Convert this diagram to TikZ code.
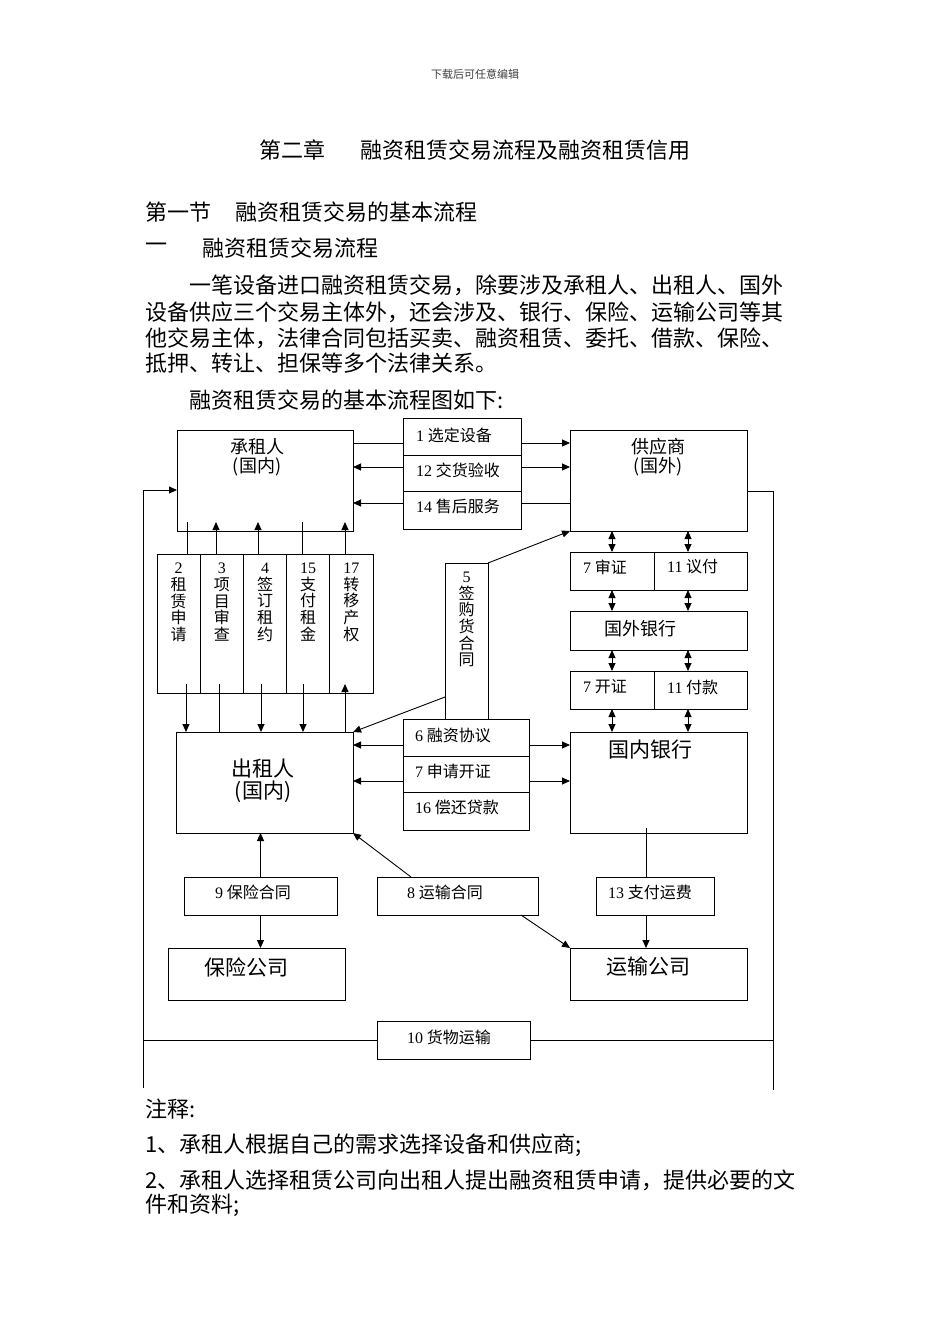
\documentclass[tikz,border=0pt]{standalone}
\usepackage{fontspec}
\setmainfont{Noto Sans CJK SC}
\newfontfamily\dg{Liberation Serif}
\usetikzlibrary{arrows.meta}
\newcommand{\fsz}[2]{\fontsize{#1}{#2}\selectfont}
\begin{document}
\begin{tikzpicture}[x=1pt,y=-1pt,
 box/.style={draw,line width=1pt,inner sep=0pt,outer sep=0pt,anchor=north west},
 conn/.style={line width=0.9pt},
 arr/.style={conn,-{Triangle[length=8pt,width=7pt]}},
 darr/.style={conn,{Triangle[length=8pt,width=7pt]}-{Triangle[length=8pt,width=7pt]}},
 lab/.style={inner sep=0pt,anchor=west,font=\fsz{16}{18}},
 clab/.style={inner sep=0pt,font=\fsz{16}{18}},
 biglab/.style={inner sep=0pt,align=center,font=\fsz{21}{22}},
 midlab/.style={inner sep=0pt,align=center,font=\fsz{18}{19}},
 bodytxt/.style={inner sep=0pt,anchor=west,font=\fsz{22}{24}},
 vtxt/.style={inner sep=0pt,anchor=north,align=center,font=\fsz{16}{16.6}}]
\useasboundingbox (0,0) rectangle (950,1344);
\fill[white] (0,0) rectangle (950,1344);

% ---------- header and text ----------
\node[inner sep=0pt,font=\fsz{11}{12},text=black!75] (hdr) at (475,74) {下载后可任意编辑};
\node[bodytxt] (t1a) at (259,150) {第二章};
\node[bodytxt] (t1b) at (360,150) {融资租赁交易流程及融资租赁信用};
\node[bodytxt] (t2a) at (145,212) {第一节};
\node[bodytxt] (t2b) at (235,212) {融资租赁交易的基本流程};
\node[bodytxt] (t3a) at (145,248) {一};
\node[bodytxt] (t3b) at (202,248) {融资租赁交易流程};
\node[bodytxt] (p1) at (189,285) {一笔设备进口融资租赁交易，除要涉及承租人、出租人、国外};
\node[bodytxt] (p2) at (145,312) {设备供应三个交易主体外，还会涉及、银行、保险、运输公司等其};
\node[bodytxt] (p3) at (145,338) {他交易主体，法律合同包括买卖、融资租赁、委托、借款、保险、};
\node[bodytxt] (p4) at (145,363) {抵押、转让、担保等多个法律关系。};
\node[bodytxt] (p5) at (189,400) {融资租赁交易的基本流程图如下:};

\node[bodytxt] (n0) at (145,1109) {注释:};
\node[bodytxt] (n1) at (145,1145) {1、承租人根据自己的需求选择设备和供应商;};
\node[bodytxt] (n2) at (145,1180) {2、承租人选择租赁公司向出租人提出融资租赁申请，提供必要的文};
\node[bodytxt] (n3) at (145,1205) {件和资料;};

% ---------- boxes ----------
\node[box,minimum width=176pt,minimum height=101pt] (cz) at (177,430) {};
\node[box,minimum width=177pt,minimum height=101pt] (gys) at (570,430) {};
\node[box,minimum width=118pt,minimum height=37pt] (s1) at (403,418) {};
\node[box,minimum width=118pt,minimum height=36pt] (s12) at (403,455) {};
\node[box,minimum width=118pt,minimum height=38pt] (s14) at (403,491) {};

\node[box,minimum width=43.2pt,minimum height=139pt] (c2) at (157,554) {};
\node[box,minimum width=43.2pt,minimum height=139pt] (c3) at (200.2,554) {};
\node[box,minimum width=43.2pt,minimum height=139pt] (c4) at (243.4,554) {};
\node[box,minimum width=43.2pt,minimum height=139pt] (c15) at (286.6,554) {};
\node[box,minimum width=43.2pt,minimum height=139pt] (c17) at (329.8,554) {};

\node[box,minimum width=43pt,minimum height=156pt] (c5) at (445,563) {};

\node[box,minimum width=126pt,minimum height=37pt] (m6) at (403,719) {};
\node[box,minimum width=126pt,minimum height=36pt] (m7) at (403,756) {};
\node[box,minimum width=126pt,minimum height=38pt] (m16) at (403,792) {};

\node[box,minimum width=177pt,minimum height=101pt] (czr) at (176,732) {};

\node[box,minimum width=84pt,minimum height=38pt] (sz) at (570,552) {};
\node[box,minimum width=93pt,minimum height=38pt] (yf) at (654,552) {};
\node[box,minimum width=177pt,minimum height=39pt] (gwyh) at (570,611) {};
\node[box,minimum width=84pt,minimum height=38pt] (kz) at (570,671) {};
\node[box,minimum width=93pt,minimum height=38pt] (fk) at (654,671) {};
\node[box,minimum width=177pt,minimum height=101pt] (gnyh) at (570,732) {};

\node[box,minimum width=153pt,minimum height=38pt] (b9) at (184,877) {};
\node[box,minimum width=161pt,minimum height=38pt] (b8) at (377,877) {};
\node[box,minimum width=118pt,minimum height=38pt] (b13) at (596,877) {};
\node[box,minimum width=177pt,minimum height=52pt] (bx) at (168,948) {};
\node[box,minimum width=177pt,minimum height=52pt] (ys) at (570,948) {};
\node[box,minimum width=153pt,minimum height=38pt] (b10) at (377,1021) {};

% ---------- labels ----------
\node[midlab] (lcz) at (257,457.5) {承租人\\(国内)};
\node[midlab] (lgys) at (658,457.5) {供应商\\(国外)};
\node[biglab] (lczr) at (263,781) {出租人\\(国内)};
\node[biglab] (lgnyh) at (650,750) {国内银行};
\node[biglab] (lys) at (648,967) {运输公司};
\node[biglab] (lbx) at (246,967) {保险公司};
\node[midlab] (lgwyh) at (640,629) {国外银行};

\node[lab] (l1) at (416,435) {{\dg 1} 选定设备};
\node[lab] (l12) at (416,470) {{\dg 12} 交货验收};
\node[lab] (l14) at (416,506) {{\dg 14} 售后服务};
\node[lab] (l6) at (415,735) {{\dg 6} 融资协议};
\node[lab] (l7) at (415,771) {{\dg 7} 申请开证};
\node[lab] (l16) at (415,807) {{\dg 16} 偿还贷款};
\node[lab] (lsz) at (583,567) {{\dg 7} 审证};
\node[lab] (lyf) at (667,567) {{\dg 11} 议付};
\node[lab] (lkz) at (583,687) {{\dg 7} 开证};
\node[lab] (lfk) at (667,687) {{\dg 11} 付款};
\node[clab] (l9) at (253,892) {{\dg 9} 保险合同};
\node[lab] (l8) at (407,892) {{\dg 8} 运输合同};
\node[lab] (l13) at (608,892) {{\dg 13} 支付运费};
\node[lab] (l10) at (407,1037) {{\dg 10} 货物运输};

\node[vtxt,yshift=-9pt] (v2) at (c2.north) {{\dg 2}\\租\\赁\\申\\请};
\node[vtxt,yshift=-9pt] (v3) at (c3.north) {{\dg 3}\\项\\目\\审\\查};
\node[vtxt,yshift=-9pt] (v4) at (c4.north) {{\dg 4}\\签\\订\\租\\约};
\node[vtxt,yshift=-9pt] (v15) at (c15.north) {{\dg 15}\\支\\付\\租\\金};
\node[vtxt,yshift=-9pt] (v17) at (c17.north) {{\dg 17}\\转\\移\\产\\权};
\node[vtxt,yshift=-9pt] (v5) at (c5.north) {{\dg 5}\\签\\购\\货\\合\\同};

% ---------- connectors: top stack ----------
\coordinate (r1) at (0,443);
\coordinate (r2) at (0,467);
\coordinate (r3) at (0,503);
\draw[conn] (cz.east |- r1) -- (s1.west |- r1);
\draw[arr] (s1.east |- r1) -- (gys.west |- r1);
\draw[arr] (s12.west |- r2) -- (cz.east |- r2);
\draw[arr] (s12.east |- r2) -- (gys.west |- r2);
\draw[arr] (s14.west |- r3) -- (cz.east |- r3);
\draw[conn] (s14.east |- r3) -- (gys.west |- r3);

% ---------- outer loop ----------
\coordinate (Ltop) at (143,490);
\coordinate (Lmid) at (143,1040);
\coordinate (Lbot) at (143,1088);
\coordinate (Rtop) at (773,491);
\coordinate (Rbot) at (773,1090);
\draw[arr] (Lbot) -- (Ltop) -- (cz.west |- Ltop);
\draw[conn] (Lmid) -- (b10.west);
\draw[conn] (gys.east |- Rtop) -- (Rtop) -- (Rbot);
\draw[conn] (b10.east) -- (Rbot |- b10.east);

% ---------- column connectors ----------
\coordinate (u2) at (187,522);
\coordinate (u3) at (216,522);
\coordinate (u4) at (258,522);
\coordinate (u15) at (302,522);
\coordinate (u17) at (345,522);
\coordinate (d2) at (186,684);
\coordinate (d3) at (219,684);
\coordinate (d4) at (261,684);
\coordinate (d15) at (303,684);
\coordinate (d17) at (345,684);
\draw[conn] (u2) -- (u2 |- c2.north);
\draw[arr] (d2) -- (d2 |- czr.north);
\draw[arr] (u3 |- c3.north) -- (u3);
\draw[conn] (d3) -- (d3 |- czr.north);
\draw[arr] (u4 |- c4.north) -- (u4);
\draw[arr] (d4) -- (d4 |- czr.north);
\draw[conn] (u15) -- (u15 |- c15.north);
\draw[arr] (d15) -- (d15 |- czr.north);
\draw[arr] (u17 |- c17.north) -- (u17);
\draw[arr] (d17 |- czr.north) -- (d17);

% ---------- purchase contract ----------
\coordinate (c5w) at (445,697);
\draw[arr] (c5.north east) -- (gys.south west);
\draw[arr] (c5w) -- (czr.north east);

% ---------- middle stack ----------
\coordinate (q1) at (0,745);
\coordinate (q2) at (0,781);
\draw[arr] (m6.west |- q1) -- (czr.east |- q1);
\draw[arr] (m6.east |- q1) -- (gnyh.west |- q1);
\draw[arr] (m7.west |- q2) -- (czr.east |- q2);
\draw[arr] (m7.east |- q2) -- (gnyh.west |- q2);

% ---------- bank chain ----------
\coordinate (xa) at (612,0);
\coordinate (xb) at (688,0);
\draw[darr] (xa |- gys.south) -- (xa |- sz.north);
\draw[darr] (xb |- gys.south) -- (xb |- yf.north);
\draw[darr] (xa |- sz.south) -- (xa |- gwyh.north);
\draw[darr] (xb |- yf.south) -- (xb |- gwyh.north);
\draw[darr] (xa |- gwyh.south) -- (xa |- kz.north);
\draw[darr] (xb |- gwyh.south) -- (xb |- fk.north);
\draw[darr] (xa |- kz.south) -- (xa |- gnyh.north);
\draw[darr] (xb |- fk.south) -- (xb |- gnyh.north);

% ---------- lower part ----------
\coordinate (y13) at (646,828);
\draw[conn] (y13) -- (y13 |- b13.north);
\draw[arr] (y13 |- b13.south) -- (y13 |- ys.north);
\draw[arr] (b9.north) -- (b9.north |- czr.south);
\draw[arr] (b9.south) -- (b9.south |- bx.north);
\coordinate (b8t) at (411,877);
\coordinate (b8b) at (521,915);
\draw[arr] (b8t) -- (czr.south east);
\draw[arr] (b8b) -- (ys.north west);
\end{tikzpicture}
\end{document}
